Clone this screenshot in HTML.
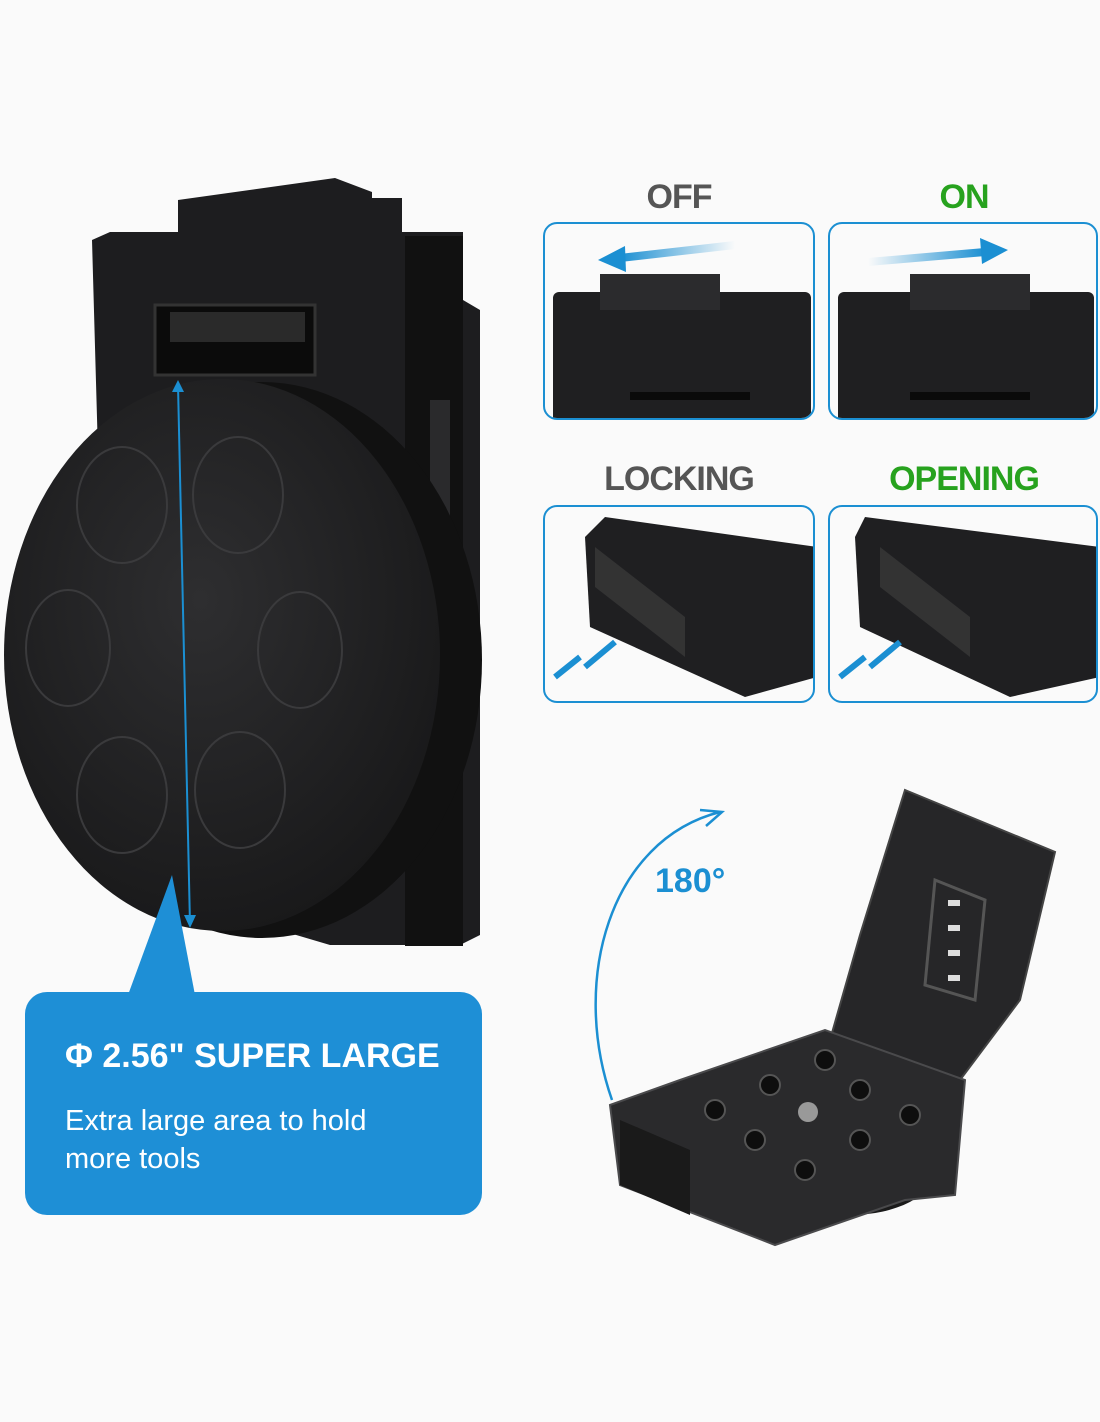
<!DOCTYPE html>
<html><head><meta charset="utf-8"><style>
html,body{margin:0;padding:0}
body{width:1100px;height:1422px;background:#fafafa;position:relative;overflow:hidden;font-family:"Liberation Sans",sans-serif}
.abs{position:absolute}
.panel{position:absolute;border:2px solid #1b8fd2;border-radius:14px;background:#f4f6f8;overflow:hidden;box-sizing:border-box}
.lbl{position:absolute;font-weight:bold;font-size:34px;text-align:center;width:272px;letter-spacing:-1px}
</style></head><body>

<svg class="abs" style="left:0;top:0" width="1100" height="1422" viewBox="0 0 1100 1422">
  <defs>
    <linearGradient id="arr" x1="0" x2="1"><stop offset="0" stop-color="#1b8fd2" stop-opacity="0"/><stop offset="1" stop-color="#1b8fd2"/></linearGradient>
    <linearGradient id="arrL" x1="1" x2="0"><stop offset="0" stop-color="#1b8fd2" stop-opacity="0"/><stop offset="1" stop-color="#1b8fd2"/></linearGradient>
    <radialGradient id="disc" cx="0.45" cy="0.4" r="0.7"><stop offset="0" stop-color="#2e2e30"/><stop offset="1" stop-color="#161617"/></radialGradient>
  </defs>
  <!-- left clip back -->
  <path d="M178 200 L335 178 L372 192 L372 198 L402 198 L402 232 L463 232 L463 300 L480 310 L480 935 L460 945 L330 945 L110 880 L92 240 L110 232 L178 232 Z" fill="#1d1d1f"/>
  <rect x="405" y="236" width="58" height="710" fill="#111"/>
  <rect x="430" y="400" width="20" height="380" fill="#2a2a2c"/>
  <rect x="155" y="305" width="160" height="70" fill="#0b0b0b" stroke="#333" stroke-width="3"/>
  <rect x="170" y="312" width="135" height="30" fill="#2a2a2a"/>
  <!-- disc side -->
  <ellipse cx="262" cy="660" rx="220" ry="278" fill="#111"/>
  <ellipse cx="222" cy="655" rx="218" ry="276" fill="url(#disc)"/>
  <g fill="none" stroke="#3a3a3c" stroke-width="2">
    <ellipse cx="122" cy="505" rx="45" ry="58"/>
    <ellipse cx="238" cy="495" rx="45" ry="58"/>
    <ellipse cx="68" cy="648" rx="42" ry="58"/>
    <ellipse cx="300" cy="650" rx="42" ry="58"/>
    <ellipse cx="122" cy="795" rx="45" ry="58"/>
    <ellipse cx="240" cy="790" rx="45" ry="58"/>
  </g>
  <line x1="178" y1="385" x2="190" y2="925" stroke="#1b8fd2" stroke-width="2"/>
  <path d="M172 392 L178 380 L184 392 Z M184 915 L190 928 L196 915 Z" fill="#1b8fd2"/>
  <!-- callout pointer -->
  <path d="M128 995 L172 875 L195 995 Z" fill="#1e8fd6"/>
  <!-- arc 180 -->
  <path d="M720 812 C 610 840, 570 980, 612 1100" fill="none" stroke="#1b8fd2" stroke-width="2.5"/>
  <path d="M700 810 L722 812 L706 826" fill="none" stroke="#1b8fd2" stroke-width="2.5"/>
  <!-- bottom right device -->
  <ellipse cx="850" cy="1170" rx="85" ry="45" fill="#1a1a1a"/>
  <path d="M905 790 L1055 852 L1020 1000 L960 1080 L930 1080 L830 1040 L860 935 Z" fill="#262628" stroke="#444" stroke-width="2"/>
  <path d="M935 880 L985 900 L975 1000 L925 985 Z" fill="none" stroke="#555" stroke-width="3"/>
  <g fill="#ddd"><rect x="948" y="900" width="12" height="6"/><rect x="948" y="925" width="12" height="6"/><rect x="948" y="950" width="12" height="6"/><rect x="948" y="975" width="12" height="6"/></g>
  <path d="M610 1105 L680 1080 L825 1030 L965 1080 L955 1195 L905 1200 L775 1245 L620 1185 Z" fill="#2a2a2c" stroke="#4a4a4c" stroke-width="2"/>
  <g fill="#0e0e0e" stroke="#555" stroke-width="2">
    <circle cx="715" cy="1110" r="10"/><circle cx="770" cy="1085" r="10"/><circle cx="825" cy="1060" r="10"/>
    <circle cx="755" cy="1140" r="10"/><circle cx="860" cy="1090" r="10"/><circle cx="805" cy="1170" r="10"/>
    <circle cx="860" cy="1140" r="10"/><circle cx="910" cy="1115" r="10"/>
  </g>
  <circle cx="808" cy="1112" r="10" fill="#999"/>
  <path d="M620 1120 L690 1150 L690 1215 L620 1185 Z" fill="#1a1a1a"/>
  <!-- arrows panels -->
  <path d="M735 245 L620 258" stroke="url(#arrL)" stroke-width="8"/>
  <path d="M598 260 L625 246 L626 272 Z" fill="#1b8fd2"/>
  <path d="M868 262 L985 252" stroke="url(#arr)" stroke-width="8"/>
  <path d="M1008 250 L980 238 L982 264 Z" fill="#1b8fd2"/>
</svg>

<div class="lbl" style="left:543px;top:178px;color:#555">OFF</div>
<div class="lbl" style="left:828px;top:178px;color:#27a21e">ON</div>
<div class="lbl" style="left:543px;top:460px;color:#555">LOCKING</div>
<div class="lbl" style="left:828px;top:460px;color:#27a21e">OPENING</div>

<div class="panel" style="left:543px;top:222px;width:272px;height:198px;background:transparent">
  <div class="abs" style="left:8px;top:68px;width:258px;height:130px;background:#1f1f21;border-radius:6px 6px 0 0"></div>
  <div class="abs" style="left:55px;top:50px;width:120px;height:36px;background:#2b2b2d"></div>
  <div class="abs" style="left:85px;top:168px;width:120px;height:8px;background:#0a0a0a"></div>
</div>
<div class="panel" style="left:828px;top:222px;width:270px;height:198px;background:transparent">
  <div class="abs" style="left:8px;top:68px;width:256px;height:130px;background:#1f1f21;border-radius:6px 6px 0 0"></div>
  <div class="abs" style="left:80px;top:50px;width:120px;height:36px;background:#2b2b2d"></div>
  <div class="abs" style="left:80px;top:168px;width:120px;height:8px;background:#0a0a0a"></div>
</div>
<div class="panel" style="left:543px;top:505px;width:272px;height:198px;background:transparent">
  <svg width="272" height="198"><path d="M60 10 L272 40 L272 170 L200 190 L45 120 L40 30 Z" fill="#1f1f21"/><path d="M50 40 L140 110 L140 150 L50 80 Z" fill="#333"/>
  <path d="M10 170 L35 150 M40 160 L70 135" stroke="#1b8fd2" stroke-width="6"/></svg>
</div>
<div class="panel" style="left:828px;top:505px;width:270px;height:198px;background:transparent">
  <svg width="270" height="198"><path d="M35 10 L270 40 L270 170 L180 190 L30 120 L25 30 Z" fill="#1f1f21"/><path d="M50 40 L140 110 L140 150 L50 80 Z" fill="#333"/>
  <path d="M10 170 L35 150 M40 160 L70 135" stroke="#1b8fd2" stroke-width="6"/></svg>
</div>

<div class="abs" style="left:655px;top:862px;color:#1b8fd2;font-weight:bold;font-size:34px">180°</div>

<div class="abs" style="left:25px;top:992px;width:457px;height:223px;background:#1e8fd6;border-radius:22px;color:#fff">
  <div class="abs" style="left:40px;top:45px;font-weight:bold;font-size:34px;white-space:nowrap">Φ 2.56" SUPER LARGE</div>
  <div class="abs" style="left:40px;top:110px;font-size:29px;line-height:38px">Extra large area to hold<br>more tools</div>
</div>
</body></html>
